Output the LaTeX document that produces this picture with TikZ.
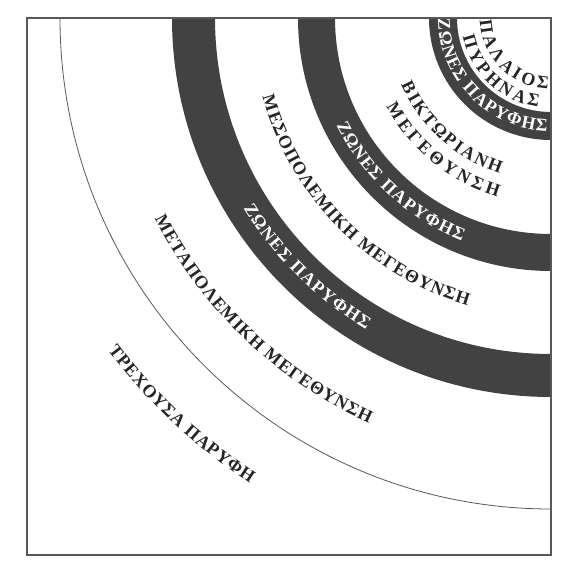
\documentclass[tikz,border=0pt]{standalone}
\usepackage{fontspec}
\setmainfont{Liberation Serif}
\usepackage{tikz}
\usetikzlibrary{calc,decorations.text}
\definecolor{beltgrey}{RGB}{66,66,66}
\definecolor{inkgrey}{RGB}{38,38,38}
\definecolor{linegrey}{RGB}{88,88,88}
\newcommand{\labfont}{\fontsize{18}{20}\selectfont\bfseries}
\newcommand{\labdark}{\labfont\color{inkgrey}}
\newcommand{\labwhite}{\labfont\color{white}}
\tikzset{
  frame/.style={draw=linegrey, line width=1.3pt},
  limit/.style={draw=linegrey, line width=0.8pt},
  belt/.style={fill=beltgrey},
  arclab/.style={decorate, decoration={text along path, text align={fit to path}}},
}

\begin{document}
\begin{tikzpicture}[x=1pt,y=1pt]
  \path[use as bounding box, fill=white] (0,0) rectangle (579,571);
  \coordinate (C) at (551,553);

  % Fringe belts, centred on the old core.
  \fill[belt] ($(C)+(180:379pt)$) arc[start angle=180, end angle=270, radius=379pt]
    -- ($(C)+(270:336pt)$) arc[start angle=270, end angle=180, radius=336pt] -- cycle;
  \fill[belt] ($(C)+(180:253pt)$) arc[start angle=180, end angle=270, radius=253pt]
    -- ($(C)+(270:216pt)$) arc[start angle=270, end angle=180, radius=216pt] -- cycle;
  \fill[belt] ($(C)+(180:122pt)$) arc[start angle=180, end angle=270, radius=122pt]
    -- ($(C)+(270:94pt)$) arc[start angle=270, end angle=180, radius=94pt] -- cycle;

  % Present edge of the town.
  \draw[limit] ($(C)+(180:491pt)$) arc[start angle=180, end angle=270, radius=491pt];

  % Labels along the rings.
  \path[arclab, decoration={text={|\labdark|ΤΡΕΧΟΥΣΑ ΠΑΡΥΦΗ}}]
    ($(C)+(216.9:554pt)$) arc[start angle=216.9, end angle=237.1, radius=554pt];
  \path[arclab, decoration={text={|\labdark|ΜΕΤΑΠΟΛΕΜΙΚΗ ΜΕΓΕΘΥΝΣΗ}}]
    ($(C)+(206.8:444pt)$) arc[start angle=206.8, end angle=245.8, radius=444pt];
  \path[arclab, decoration={text={|\labwhite|ΖΩΝΕΣ ΠΑΡΥΦΗΣ}}]
    ($(C)+(211.8:362pt)$) arc[start angle=211.8, end angle=239.3, radius=362pt];
  \path[arclab, decoration={text={|\labdark|ΜΕΣΟΠΟΛΕΜΙΚΗ ΜΕΓΕΘΥΝΣΗ}}]
    ($(C)+(195.3:299pt)$) arc[start angle=195.3, end angle=253.8, radius=299pt];
  \path[arclab, decoration={text={|\labwhite|ΖΩΝΕΣ ΠΑΡΥΦΗΣ}}]
    ($(C)+(206.6:240pt)$) arc[start angle=206.6, end angle=248.2, radius=240pt];
  \path[arclab, decoration={text={|\labdark|ΜΕΓΕΘΥΝΣΗ}}]
    ($(C)+(208.2:187pt)$) arc[start angle=208.2, end angle=253.4, radius=187pt];
  \path[arclab, decoration={text={|\labdark|ΒΙΚΤΩΡΙΑΝΗ}}]
    ($(C)+(203.9:164pt)$) arc[start angle=203.9, end angle=251.8, radius=164pt];
  \path[arclab, decoration={text={|\labwhite|ΖΩΝΕΣ ΠΑΡΥΦΗΣ}}]
    ($(C)+(180.5:113pt)$) arc[start angle=180.5, end angle=268, radius=113pt];
  \path[arclab, decoration={text={|\labdark|ΠΥΡΗΝΑΣ}}]
    ($(C)+(192:90pt)$) arc[start angle=192, end angle=261.8, radius=90pt];
  \path[arclab, decoration={text={|\labdark|ΠΑΛΑΙΟΣ}}]
    ($(C)+(181.9:71pt)$) arc[start angle=181.9, end angle=267.6, radius=71pt];

  % Frame.
  \draw[frame] (27,16) rectangle (C);
\end{tikzpicture}
\end{document}
